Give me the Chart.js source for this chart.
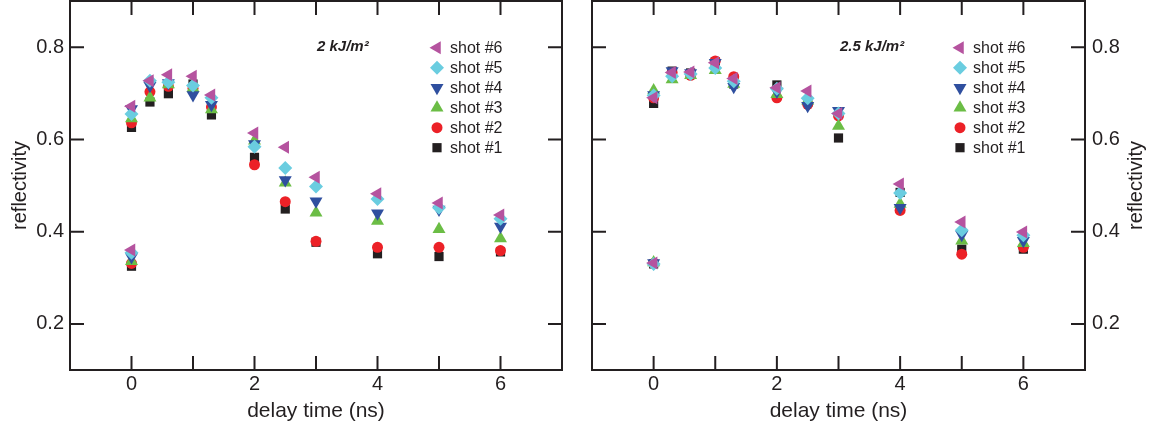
<!DOCTYPE html>
<html>
<head>
<meta charset="utf-8">
<script src="https://cdn.jsdelivr.net/npm/chart.js@4.4.1/dist/chart.umd.min.js"></script>
<style>
  body { margin: 0; background: #fff; }
  #wrap { position: relative; width: 1158px; height: 432px; }
  canvas { position: absolute; top: 0; }
  #left { left: 0; }
  #right { left: 580px; }
</style>
</head>
<body>
<div id="wrap">
  <canvas id="left" width="580" height="432"></canvas>
  <canvas id="right" width="578" height="432"></canvas>
</div>
<script>
// delay times (ns); the first point of each shot is the unpumped value at t = 0
const delays = [0, 0, 0.3, 0.6, 1, 1.3, 2, 2.5, 3, 4, 5, 6];

const xTicks = [0, 1, 2, 3, 4, 5, 6];
const xLabels = [0, 2, 4, 6];
const yTicks = [0.2, 0.4, 0.6, 0.8];

const shotNames = ["shot #6", "shot #5", "shot #4", "shot #3", "shot #2", "shot #1"];

// 2 kJ/m2
const low6 = [0.36, 0.672, 0.727, 0.74, 0.737, 0.696, 0.614, 0.583, 0.518, 0.482, 0.462, 0.436];
const low5 = [0.354, 0.655, 0.727, 0.724, 0.717, 0.69, 0.584, 0.538, 0.498, 0.471, 0.452, 0.428];
const low4 = [0.345, 0.666, 0.716, 0.722, 0.696, 0.675, 0.59, 0.512, 0.466, 0.44, 0.448, 0.411];
const low3 = [0.336, 0.645, 0.69, 0.719, 0.711, 0.665, 0.597, 0.506, 0.441, 0.423, 0.405, 0.385];
const low2 = [0.331, 0.636, 0.703, 0.715, 0.711, 0.67, 0.545, 0.465, 0.379, 0.366, 0.366, 0.359];
const low1 = [0.325, 0.626, 0.681, 0.699, 0.72, 0.653, 0.561, 0.449, 0.377, 0.352, 0.346, 0.356];

// 2.5 kJ/m2
const high6 = [0.332, 0.69, 0.745, 0.746, 0.766, 0.732, 0.712, 0.705, 0.656, 0.503, 0.421, 0.399];
const high5 = [0.33, 0.695, 0.737, 0.742, 0.755, 0.726, 0.71, 0.689, 0.656, 0.484, 0.403, 0.392];
const high4 = [0.332, 0.696, 0.748, 0.744, 0.766, 0.714, 0.704, 0.673, 0.662, 0.452, 0.393, 0.38];
const high3 = [0.333, 0.706, 0.73, 0.739, 0.75, 0.72, 0.698, 0.684, 0.629, 0.46, 0.38, 0.375];
const high2 = [0.331, 0.69, 0.745, 0.739, 0.77, 0.736, 0.69, 0.676, 0.651, 0.446, 0.351, 0.366];
const high1 = [0.33, 0.678, 0.748, 0.744, 0.768, 0.72, 0.718, 0.68, 0.603, 0.485, 0.362, 0.362];

const INK = "#231f20";
const FONT = "'Liberation Sans', Arial, Helvetica, sans-serif";
const TICK = 14;

const shotColors = ["#b5539f", "#6acde0", "#2f4f9f", "#6bbd45", "#ec2127", INK];
const shotStyles = ["triangle", "rectRot", "triangle", "triangle", "circle", "rect"];
const shotRotations = [-90, 0, 180, 0, 0, 0];
const shotRadii = [7.5, 7, 7.5, 7.5, 5.5, 6.5];

function makeDatasets(series) {
  return series.map((vals, i) => ({
    label: shotNames[i],
    data: vals.map((v, k) => ({ x: delays[k], y: v })),
    pointStyle: shotStyles[i],
    pointRotation: shotRotations[i],
    pointRadius: shotRadii[i],
    pointBackgroundColor: shotColors[i],
    pointBorderWidth: 0,
    showLine: false,
  }));
}

// frame with inward ticks on all four sides
const frameTicks = {
  id: "frameTicks",
  afterDatasetsDraw(chart) {
    const { ctx, chartArea: a, scales } = chart;
    ctx.save();
    ctx.strokeStyle = INK;
    ctx.lineWidth = 2;
    ctx.strokeRect(a.left, a.top, a.right - a.left, a.bottom - a.top);
    ctx.beginPath();
    xTicks.forEach((v) => {
      const px = scales.x.getPixelForValue(v);
      ctx.moveTo(px, a.bottom);
      ctx.lineTo(px, a.bottom - TICK);
      ctx.moveTo(px, a.top);
      ctx.lineTo(px, a.top + TICK);
    });
    yTicks.forEach((v) => {
      const py = scales.y.getPixelForValue(v);
      ctx.moveTo(a.left, py);
      ctx.lineTo(a.left + TICK, py);
      ctx.moveTo(a.right, py);
      ctx.lineTo(a.right - TICK, py);
    });
    ctx.stroke();
    ctx.restore();
  },
};

// fluence label, legend and (for the right panel) the y title
const panelNotes = {
  id: "panelNotes",
  afterDraw(chart, args, opts) {
    const { ctx, chartArea: a } = chart;
    ctx.save();
    ctx.fillStyle = INK;
    ctx.textBaseline = "middle";
    ctx.font = "italic bold 15px " + FONT;
    ctx.fillText(opts.label, opts.labelX, 47);

    ctx.font = "16px " + FONT;
    chart.data.datasets.forEach((ds, i) => {
      const y = 47.7 + i * 20;
      ctx.fillStyle = ds.pointBackgroundColor;
      if (Chart.helpers && Chart.helpers.drawPoint) {
        Chart.helpers.drawPoint(ctx, {
          pointStyle: ds.pointStyle,
          rotation: ds.pointRotation,
          radius: ds.pointRadius,
          borderWidth: 0,
        }, opts.legendX, y);
      } else {
        ctx.beginPath();
        ctx.arc(opts.legendX, y, 5.5, 0, Math.PI * 2);
        ctx.fill();
      }
      ctx.fillStyle = INK;
      ctx.fillText(ds.label, opts.legendX + 13, y + 1);
    });

    if (opts.rightTitle) {
      ctx.font = "20px " + FONT;
      ctx.textAlign = "center";
      ctx.translate(opts.rightTitleX, (a.top + a.bottom) / 2);
      ctx.rotate(-Math.PI / 2);
      ctx.fillText(opts.rightTitle, 0, 0);
    }
    ctx.restore();
  },
};

// drop the half-label padding Chart.js reserves at the axis ends
function noEndPadding(s) {
  s.paddingTop = 0;
  s.paddingBottom = 0;
  s.paddingLeft = 0;
  s.paddingRight = 0;
}

function makeScales(side) {
  return {
    x: {
      type: "linear",
      min: -1,
      max: 7,
      afterBuildTicks: (s) => { s.ticks = xTicks.map((v) => ({ value: v })); },
      afterFit: (s) => { s.height = 62; noEndPadding(s); },
      grid: { display: false, drawTicks: false },
      border: { display: false },
      ticks: {
        padding: 2,
        autoSkip: false,
        maxRotation: 0,
        color: INK,
        font: { size: 20, family: FONT },
        callback: (v) => (xLabels.includes(v) ? String(v) : ""),
      },
      title: {
        display: true,
        text: "delay time (ns)",
        color: INK,
        font: { size: 21, family: FONT },
        padding: { top: 0, bottom: 8 },
      },
    },
    y: {
      type: "linear",
      position: side,
      min: 0.1,
      max: 0.9,
      afterBuildTicks: (s) => { s.ticks = yTicks.map((v) => ({ value: v })); },
      afterFit: (s) => { s.width = side === "left" ? 70 : 73; noEndPadding(s); },
      grid: { display: false, drawTicks: false },
      border: { display: false },
      ticks: {
        padding: side === "left" ? 6 : 7,
        color: INK,
        font: { size: 20, family: FONT },
        callback: (v) => v.toFixed(1),
      },
      title: {
        display: side === "left",
        text: "reflectivity",
        color: INK,
        font: { size: 20, family: FONT },
        padding: { top: 8, bottom: 0 },
      },
    },
  };
}

function makeChart(id, series, side, notes, padding) {
  return new Chart(document.getElementById(id), {
    type: "scatter",
    data: { datasets: makeDatasets(series) },
    options: {
      responsive: false,
      animation: false,
      events: [],
      devicePixelRatio: 1,
      layout: { padding, autoPadding: false },
      scales: makeScales(side),
      plugins: {
        legend: { display: false },
        tooltip: { enabled: false },
        panelNotes: notes,
      },
    },
    plugins: [frameTicks, panelNotes],
  });
}

window.addEventListener("DOMContentLoaded", function () {
  makeChart(
    "left",
    [low6, low5, low4, low3, low2, low1],
    "left",
    { label: "2 kJ/m²", labelX: 317, legendX: 437 },
    { left: 0, right: 18, top: 1, bottom: 0 },
  );
  makeChart(
    "right",
    [high6, high5, high4, high3, high2, high1],
    "right",
    { label: "2.5 kJ/m²", labelX: 260, legendX: 380, rightTitle: "reflectivity", rightTitleX: 556 },
    { left: 12, right: 0, top: 1, bottom: 0 },
  );
});
</script>
</body>
</html>
